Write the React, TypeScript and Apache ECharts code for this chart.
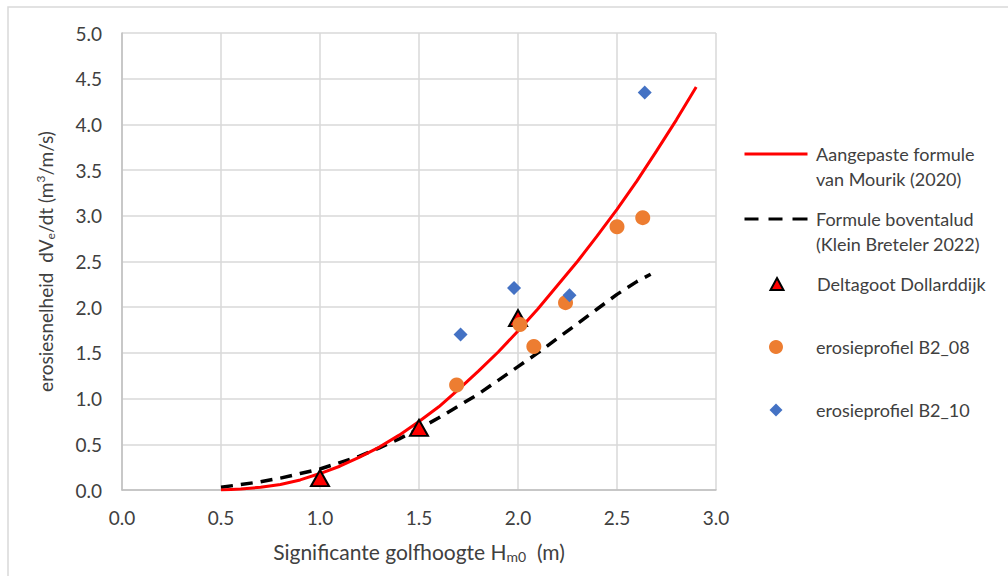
import React, { useEffect, useRef } from "react";
import * as echarts from "echarts";

const xTicks = ["0.0", "0.5", "1.0", "1.5", "2.0", "2.5", "3.0"];

const mourikH = [0.5, 0.6, 0.7, 0.8, 0.9, 1.0, 1.1, 1.2, 1.3, 1.4, 1.5, 1.6, 1.7, 1.8, 1.9, 2.0, 2.1, 2.2, 2.3, 2.4, 2.5, 2.6, 2.7, 2.8, 2.9];
const mourikE = [0.0, 0.01, 0.03, 0.06, 0.11, 0.18, 0.26, 0.36, 0.47, 0.6, 0.75, 0.91, 1.1, 1.3, 1.51, 1.74, 1.98, 2.24, 2.5, 2.78, 3.07, 3.38, 3.71, 4.05, 4.41];

const kleinH = [0.5, 0.6, 0.7, 0.8, 0.9, 1.0, 1.1, 1.2, 1.3, 1.4, 1.5, 1.6, 1.7, 1.8, 1.9, 2.0, 2.1, 2.2, 2.3, 2.4, 2.5, 2.6, 2.67];
const kleinE = [0.03, 0.06, 0.09, 0.13, 0.18, 0.23, 0.3, 0.37, 0.46, 0.56, 0.67, 0.79, 0.92, 1.05, 1.2, 1.35, 1.5, 1.66, 1.82, 1.98, 2.14, 2.28, 2.36];

const deltaH = [1.0, 1.5, 2.0];
const deltaE = [0.13, 0.68, 1.88];

const b208H = [1.69, 2.01, 2.08, 2.24, 2.5, 2.63];
const b208E = [1.15, 1.81, 1.57, 2.05, 2.88, 2.98];

const b210H = [2.64, 1.98, 2.26, 1.71];
const b210E = [4.35, 2.21, 2.13, 1.7];

const zip = (a: number[], b: number[]) => a.map((v, i) => [v, b[i]]);

const FONT = "Lato, 'Open Sans', sans-serif";
const TXT = "#404040";

export default function App() {
  const ref = useRef<HTMLDivElement>(null);
  useEffect(() => {
    if (!ref.current) return;
    const chart = echarts.init(ref.current, undefined, { renderer: "svg" });
    const names = [
      "Aangepaste formule van Mourik (2020)",
      "Formule boventalud (Klein Breteler 2022)",
      "Deltagoot Dollarddijk",
      "erosieprofiel B2_08",
      "erosieprofiel B2_10",
    ];
    const firstLines: Record<string, string> = {
      [names[0]]: "Aangepaste formule",
      [names[1]]: "Formule boventalud",
    };
    const iconCx = 776;
    const textX = 816;
    const items = [
      { y: 154, icon: "path://M0,0H63V3H0Z", w: 63, h: 3 },
      { y: 219, icon: "path://M0,0H14V3H0Z M24,0H38V3H24Z M48,0H63V3H48Z", w: 63, h: 3 },
      { y: 284, icon: "triangle", w: 13, h: 12 },
      { y: 347, icon: "circle", w: 14, h: 14 },
      { y: 410, icon: "diamond", w: 13, h: 13 },
    ];
    const legends = items.map((it, i) => ({
      data: [{ name: names[i], icon: it.icon }],
      left: iconCx - it.w / 2,
      top: it.y - 11,
      padding: 0,
      itemWidth: it.w,
      itemHeight: it.h,
      itemGap: 0,
      selectedMode: false,
      formatter: (n: string) => firstLines[n] || n,
      textStyle: {
        fontFamily: FONT,
        fontSize: 18,
        color: TXT,
        lineHeight: 22,
        padding: [0, 0, 0, textX - (iconCx + it.w / 2 + 5)],
      },
    }));
    chart.setOption({
      animation: false,
      backgroundColor: "#ffffff",
      grid: { left: 122, right: 292, top: 33, bottom: 86 },
      legend: legends,
      xAxis: {
        type: "value",
        min: 0,
        max: 3,
        interval: 0.5,
        name: "Significante golfhoogte H{sub|m0}  (m)",
        nameLocation: "middle",
        nameGap: 49,
        nameTextStyle: {
          fontFamily: FONT,
          fontSize: 21,
          color: TXT,
          lineHeight: 24,
          rich: {
            sub: { fontFamily: FONT, fontSize: 14, color: TXT, lineHeight: 8, verticalAlign: "bottom" },
          },
        },
        axisLine: { lineStyle: { color: "#bfbfbf", width: 1.5 } },
        axisTick: { show: false },
        axisLabel: {
          fontFamily: FONT,
          fontSize: 19,
          color: TXT,
          margin: 18,
          formatter: (v: number) => xTicks[Math.round(v * 2)] ?? v.toFixed(1),
        },
        splitLine: { lineStyle: { color: "#d9d9d9", width: 1.5 } },
      },
      yAxis: {
        type: "value",
        min: 0,
        max: 5,
        interval: 0.5,
        name: "erosiesnelheid  dV{sub|e}/dt (m{sup|3}/m/s)",
        nameLocation: "middle",
        nameGap: 66,
        nameRotate: 90,
        nameTextStyle: {
          fontFamily: FONT,
          fontSize: 19,
          color: TXT,
          lineHeight: 22,
          rich: {
            sub: { fontFamily: FONT, fontSize: 12, color: TXT, lineHeight: 9, verticalAlign: "bottom" },
            sup: { fontFamily: FONT, fontSize: 12, color: TXT, lineHeight: 9, verticalAlign: "top" },
          },
        },
        axisLine: { show: true, lineStyle: { color: "#bfbfbf", width: 1.5 } },
        axisTick: { show: false },
        axisLabel: {
          fontFamily: FONT,
          fontSize: 19,
          color: TXT,
          margin: 20,
          formatter: (v: number) => v.toFixed(1),
        },
        splitLine: { lineStyle: { color: "#d9d9d9", width: 1.5 } },
      },
      graphic: [
        {
          type: "rect",
          shape: { x: 8, y: 7, width: 1200, height: 700 },
          style: { fill: "none", stroke: "#d9d9d9", lineWidth: 1.5 },
          silent: true,
        },
        {
          type: "text",
          left: textX,
          top: 170,
          style: { text: "van Mourik (2020)", fontFamily: FONT, fontSize: 18, fill: TXT },
        },
        {
          type: "text",
          left: textX,
          top: 235,
          style: { text: "(Klein Breteler 2022)", fontFamily: FONT, fontSize: 18, fill: TXT },
        },
      ],
      series: [
        {
          name: names[0],
          type: "line",
          data: zip(mourikH, mourikE),
          showSymbol: false,
          symbol: "none",
          lineStyle: { color: "#ff0000", width: 3 },
          itemStyle: { color: "#ff0000" },
          z: 3,
        },
        {
          name: names[1],
          type: "line",
          data: zip(kleinH, kleinE),
          showSymbol: false,
          symbol: "none",
          lineStyle: { color: "#000000", width: 3.5, type: [12, 8] },
          itemStyle: { color: "#000000" },
          z: 2,
        },
        {
          name: names[2],
          type: "scatter",
          data: zip(deltaH, deltaE),
          symbol: "triangle",
          symbolSize: [18, 16],
          itemStyle: { color: "#ff0000", borderColor: "#000000", borderWidth: 2, opacity: 1 },
          z: 4,
        },
        {
          name: names[3],
          type: "scatter",
          data: zip(b208H, b208E),
          symbol: "circle",
          symbolSize: 15,
          itemStyle: { color: "#ED7D31", opacity: 1 },
          z: 5,
        },
        {
          name: names[4],
          type: "scatter",
          data: zip(b210H, b210E),
          symbol: "diamond",
          symbolSize: 14,
          itemStyle: { color: "#4472C4", opacity: 1 },
          z: 6,
        },
      ],
    });
    return () => chart.dispose();
  }, []);
  return (
    <div
      ref={ref}
      style={{ position: "absolute", left: 0, top: 0, width: 1008, height: 576 }}
    />
  );
}
